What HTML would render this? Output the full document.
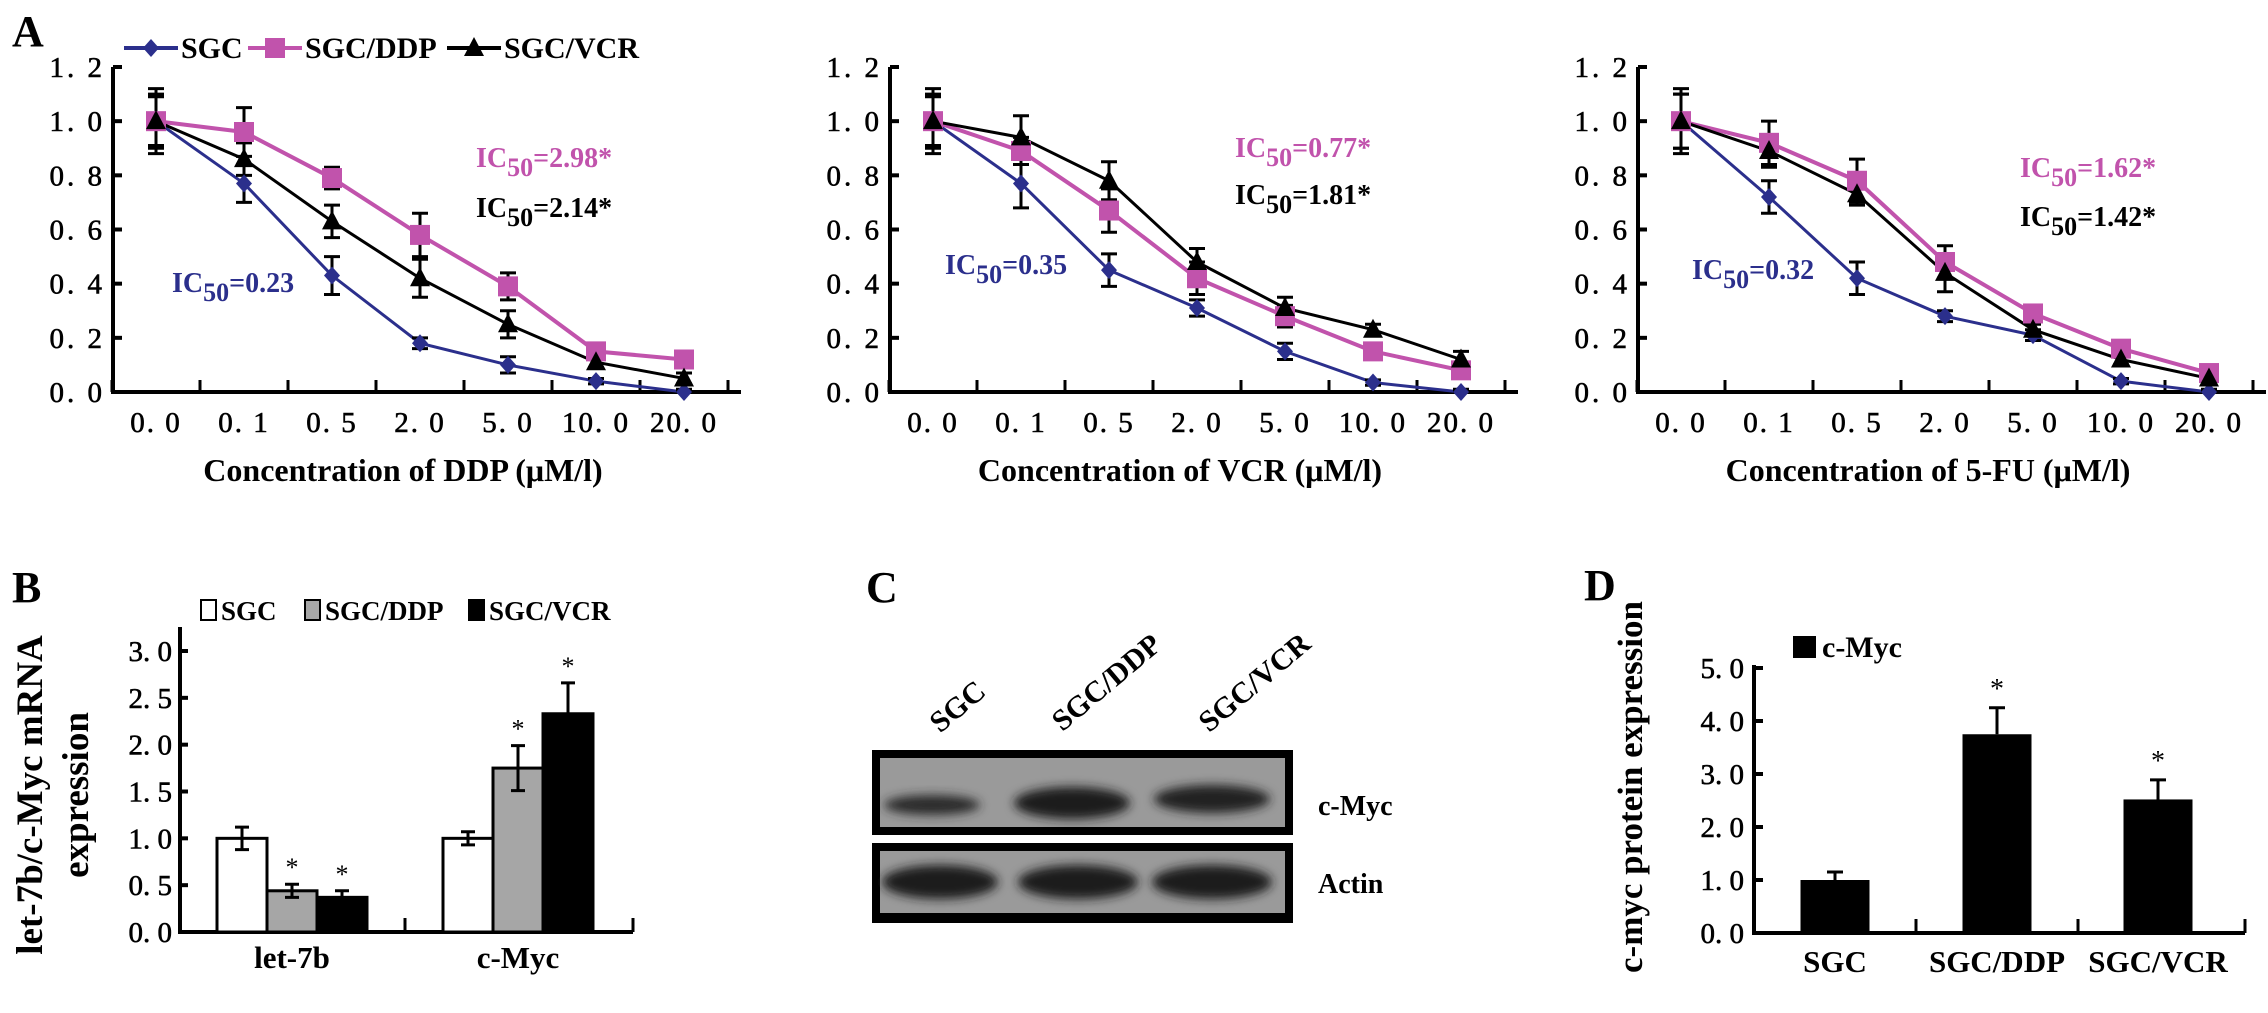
<!DOCTYPE html>
<html><head><meta charset="utf-8">
<style>
html,body{margin:0;padding:0;background:#fff;}
svg{display:block;font-family:"Liberation Serif",serif;}
.t{font-weight:bold;}
</style></head>
<body>
<svg id="fig" width="2268" height="1013" viewBox="0 0 2268 1013" xmlns="http://www.w3.org/2000/svg">
<defs>
<filter id="blur" x="-20%" y="-50%" width="140%" height="200%"><feGaussianBlur stdDeviation="5"/></filter>
</defs>
<text x="12" y="46" font-size="44" class="t">A</text>
<g id="legA"></g>
<g id="chartA1"></g>
<g id="chartA2"></g>
<g id="chartA3"></g>

<text x="12" y="602" font-size="44" class="t">B</text>
<g id="chartB"></g>

<text x="866" y="602" font-size="44" class="t">C</text>
<g id="blot">
  <rect x="872" y="750" width="421" height="85" fill="#000"/>
  <rect x="880" y="758" width="405" height="69" fill="#9a9a9a"/>
  <ellipse cx="932" cy="805" rx="48" ry="10" fill="#2a2a2a" filter="url(#blur)"/>
  <ellipse cx="1072" cy="803" rx="58" ry="16" fill="#1e1e1e" filter="url(#blur)"/>
  <ellipse cx="1212" cy="799" rx="58" ry="14" fill="#222" filter="url(#blur)"/>
  <rect x="872" y="843" width="421" height="80" fill="#000"/>
  <rect x="880" y="851" width="405" height="62" fill="#9a9a9a"/>
  <ellipse cx="940" cy="882" rx="58" ry="17" fill="#1e1e1e" filter="url(#blur)"/>
  <ellipse cx="1078" cy="882" rx="60" ry="17" fill="#1e1e1e" filter="url(#blur)"/>
  <ellipse cx="1212" cy="882" rx="60" ry="17" fill="#1e1e1e" filter="url(#blur)"/>
  <text x="958" y="716" font-size="30" class="t" text-anchor="middle" transform="rotate(-40 958 707)">SGC</text>
  <text x="1107" y="692" font-size="30" class="t" text-anchor="middle" transform="rotate(-40 1107 683)">SGC/DDP</text>
  <text x="1255" y="692" font-size="30" class="t" text-anchor="middle" transform="rotate(-40 1255 683)">SGC/VCR</text>
  <text x="1318" y="815" font-size="28" class="t">c-Myc</text>
  <text x="1318" y="893" font-size="28" class="t">Actin</text>
</g>

<text x="1584" y="600" font-size="44" class="t">D</text>
<g id="chartD"></g>
</svg>
<script>
// ---------- Panel A data ----------
const doseLabels = ["0.0","0.1","0.5","2.0","5.0","10.0","20.0"];
const yTicksA = [0,0.2,0.4,0.6,0.8,1.0,1.2];
const ddpSGC = [1.0,0.77,0.43,0.18,0.10,0.04,0.0];
const ddpDDP = [1.0,0.96,0.79,0.58,0.39,0.15,0.12];
const ddpVCR = [1.0,0.86,0.63,0.42,0.25,0.11,0.05];
const ddpErrSGC = [0.10,0.07,0.07,0.02,0.03,0.01,0.01];
const ddpErrDDP = [0.09,0.09,0.04,0.08,0.05,0.02,0.02];
const ddpErrVCR = [0.12,0.06,0.06,0.07,0.05,0.02,0.02];
const vcrSGC = [1.0,0.77,0.45,0.31,0.15,0.035,0.0];
const vcrDDP = [1.0,0.89,0.67,0.42,0.28,0.15,0.08];
const vcrVCR = [1.0,0.94,0.78,0.48,0.31,0.23,0.12];
const vcrErrSGC = [0.10,0.09,0.06,0.03,0.03,0.01,0.01];
const vcrErrDDP = [0.09,0.05,0.08,0.06,0.04,0.02,0.02];
const vcrErrVCR = [0.12,0.08,0.07,0.05,0.04,0.02,0.03];
const fuSGC = [1.0,0.72,0.42,0.28,0.21,0.04,0.0];
const fuDDP = [1.0,0.92,0.78,0.48,0.29,0.16,0.07];
const fuVCR = [1.0,0.89,0.73,0.44,0.23,0.12,0.05];
const fuErrSGC = [0.10,0.06,0.06,0.02,0.02,0.01,0.01];
const fuErrDDP = [0.10,0.08,0.08,0.06,0.03,0.03,0.01];
const fuErrVCR = [0.12,0.06,0.04,0.07,0.02,0.02,0.01];
const icLabels1 = ["2.98*","2.14*","0.23"];
const icLabels2 = ["0.77*","1.81*","0.35"];
const icLabels3 = ["1.62*","1.42*","0.32"];
// ---------- Panel B data ----------
const genes = ["let-7b","c-Myc"];
const mrnaSGC = [1.0,1.0];
const mrnaDDP = [0.44,1.75];
const mrnaVCR = [0.37,2.33];
const mrnaErrSGC = [0.12,0.07];
const mrnaErrDDP = [0.07,0.24];
const mrnaErrVCR = [0.07,0.33];
const yTicksB = [0,0.5,1.0,1.5,2.0,2.5,3.0];
// ---------- Panel D data ----------
const cellLines = ["SGC","SGC/DDP","SGC/VCR"];
const protein = [1.0,3.75,2.52];
const proteinErr = [0.15,0.5,0.37];
const yTicksD = [0,1,2,3,4,5];

const NS="http://www.w3.org/2000/svg";
function mk(parent,tag,attrs,text){const e=document.createElementNS(NS,tag);for(const k in attrs)e.setAttribute(k,attrs[k]);if(text!==undefined)e.textContent=text;parent.appendChild(e);return e;}

const BLUE="#2b2f8c", PINK="#c153ac", BLACK="#000";

function marker(g,type,x,y,color){
  let m;
  if(type==="diamond") m=mk(g,"polygon",{points:`${x},${y-9} ${x+8},${y} ${x},${y+9} ${x-8},${y}`,fill:color});
  else if(type==="square") m=mk(g,"rect",{x:x-10,y:y-10,width:20,height:20,fill:color});
  else m=mk(g,"polygon",{points:`${x},${y-11} ${x+10},${y+8} ${x-10},${y+8}`,fill:color});
  
  
}

(function(){
  const g=document.getElementById("legA");
  const items=[["SGC",BLUE,"diamond",124],["SGC/DDP",PINK,"square",248],["SGC/VCR",BLACK,"triangle",447]];
  items.forEach(it=>{
    const l=mk(g,"line",{x1:it[3],y1:48,x2:it[3]+54,y2:48,stroke:it[1],"stroke-width":4});
    
    
    marker(g,it[2],it[3]+27,48,it[1]);
    const t=mk(g,"text",{x:it[3]+57,y:58,"font-size":30,"font-weight":"bold"},it[0]);
    
    
  });
})();

function lineChart(id,ax,title,series,errs,ic,icPos){
  const g=document.getElementById(id);
  const y0=392, y1=67, step=88, first=ax+43, xEnd=ax+628;
  const Y=v=>y0-(v/1.2)*(y0-y1);
  const X=i=>first+i*step;
  const a1=mk(g,"line",{x1:ax,y1:y1,x2:ax,y2:y0+2,stroke:"#000","stroke-width":4});
  
  
  const a2=mk(g,"line",{x1:ax-2,y1:y0,x2:xEnd,y2:y0,stroke:"#000","stroke-width":4});
  
  
  yTicksA.forEach(v=>{
    const tk=mk(g,"line",{x1:ax,y1:Y(v),x2:ax+9,y2:Y(v),stroke:"#000","stroke-width":4});
    
    
    const tl=mk(g,"text",{x:ax-8,y:Y(v)+10,"font-size":29,"text-anchor":"end","letter-spacing":"3","stroke":"#000","stroke-width":0.6},v.toFixed(1).split(".").join(". "));
    
    
  });
  for(let i=0;i<=doseLabels.length;i++){
    const xx=first-step/2+i*step;
    const tk=mk(g,"line",{x1:Math.min(xx,xEnd),y1:y0,x2:Math.min(xx,xEnd),y2:y0-12,stroke:"#000","stroke-width":3});
    
    
  }
  doseLabels.forEach((d,i)=>{
    const tl=mk(g,"text",{x:X(i),y:432,"font-size":29,"text-anchor":"middle","letter-spacing":"2","stroke":"#000","stroke-width":0.6},d.split(".").join(". "));
    
    
  });
  const tt=mk(g,"text",{x:ax+290,y:481,"font-size":32,"font-weight":"bold","text-anchor":"middle"},title);
  
  
  const styles=[[BLUE,"diamond",3],[PINK,"square",4],[BLACK,"triangle",3]];
  series.forEach((s,k)=>{
    const pts=s.map((v,i)=>X(i)+","+Y(v)).join(" ");
    const pl=mk(g,"polyline",{points:pts,fill:"none",stroke:styles[k][0],"stroke-width":styles[k][2]});
    
    
    s.forEach((v,i)=>{
      const e=errs[k][i];
      const eb=mk(g,"path",{d:`M${X(i)},${Y(v+e)}V${Y(Math.max(0,v-e))}M${X(i)-8},${Y(v+e)}h16M${X(i)-8},${Y(Math.max(0,v-e))}h16`,stroke:"#000","stroke-width":3,fill:"none"});
      
      
    });
  });
  series.forEach((s,k)=>s.forEach((v,i)=>marker(g,styles[k][1],X(i),Y(v),styles[k][0])));
  const icCols=[PINK,BLACK,BLUE];
  ic.forEach((lab,k)=>{
    const t=mk(g,"text",{x:icPos[k][0],y:icPos[k][1],"font-size":28,"font-weight":"bold",fill:icCols[k]});
    
    
    mk(t,"tspan",{},"IC");
    mk(t,"tspan",{dy:9,"font-size":26},"50");
    mk(t,"tspan",{dy:-9},"="+lab);
  });
}
lineChart("chartA1",113,"Concentration of DDP (μM/l)",[ddpSGC,ddpDDP,ddpVCR],[ddpErrSGC,ddpErrDDP,ddpErrVCR],icLabels1,[[476,167],[476,217],[172,292]]);
lineChart("chartA2",890,"Concentration of VCR (μM/l)",[vcrSGC,vcrDDP,vcrVCR],[vcrErrSGC,vcrErrDDP,vcrErrVCR],icLabels2,[[1235,157],[1235,204],[945,274]]);
lineChart("chartA3",1638,"Concentration of 5-FU (μM/l)",[fuSGC,fuDDP,fuVCR],[fuErrSGC,fuErrDDP,fuErrVCR],icLabels3,[[2020,177],[2020,226],[1692,279]]);

(function(){
  const g=document.getElementById("chartB");
  const ax=180, y0=932, yTop=627, xEnd=633;
  const Y=v=>y0-v*(932-651)/3.0;
  const bw=50, groupStart=[217,443];
  const ya=mk(g,"line",{x1:ax,y1:yTop,x2:ax,y2:y0+2,stroke:"#000","stroke-width":4});
  
  
  const xa=mk(g,"line",{x1:ax-2,y1:y0,x2:xEnd,y2:y0,stroke:"#000","stroke-width":4});
  
  
  [405,xEnd].forEach(x=>{const t=mk(g,"line",{x1:x,y1:y0,x2:x,y2:y0-14,stroke:"#000","stroke-width":3});
    
    });
  yTicksB.forEach(v=>{
    const t=mk(g,"line",{x1:ax,y1:Y(v),x2:ax+8,y2:Y(v),stroke:"#000","stroke-width":4});
    
    
    const l=mk(g,"text",{x:ax-8,y:Y(v)+10,"font-size":29,"text-anchor":"end","stroke":"#000","stroke-width":0.6},v.toFixed(1).split(".").join(". "));
    
    
  });
  const sers=[[mrnaSGC,mrnaErrSGC,"#fff"],[mrnaDDP,mrnaErrDDP,"#a6a6a6"],[mrnaVCR,mrnaErrVCR,"#000"]];
  genes.forEach((gn,gi)=>{
    sers.forEach((s,k)=>{
      const x=groupStart[gi]+k*bw, v=s[0][gi], e=s[1][gi];
      const r=mk(g,"rect",{x:x,y:Y(v),width:bw,height:y0-Y(v),fill:s[2],stroke:"#000","stroke-width":3});
      
      
      const cx=x+bw/2;
      const eb=mk(g,"path",{d:`M${cx},${Y(v+e)}V${Y(v-e)}M${cx-7},${Y(v+e)}h14M${cx-7},${Y(v-e)}h14`,stroke:"#000","stroke-width":3,fill:"none"});
      
      
      if(k>0){const st=mk(g,"text",{x:cx,y:Y(v+e)-8,"font-size":26,"text-anchor":"middle"},"*");
        
        }
    });
    const xl=mk(g,"text",{x:groupStart[gi]+bw*1.5,y:968,"font-size":31,"font-weight":"bold","text-anchor":"middle"},gn);
    
    
  });
  const leg=[["SGC","#fff",201],["SGC/DDP","#a6a6a6",305],["SGC/VCR","#000",469]];
  leg.forEach(l=>{
    const r=mk(g,"rect",{x:l[2],y:600,width:15,height:20,fill:l[1],stroke:"#000","stroke-width":2});
    
    
    const t=mk(g,"text",{x:l[2]+20,y:620,"font-size":27,"font-weight":"bold"},l[0]);
    
    
  });
  const yt=mk(g,"text",{x:0,y:0,"font-size":37,"font-weight":"bold","text-anchor":"middle",transform:"translate(42 795) rotate(-90)"},"let-7b/c-Myc mRNA");
  
  
  const yt2=mk(g,"text",{x:0,y:0,"font-size":37,"font-weight":"bold","text-anchor":"middle",transform:"translate(88 795) rotate(-90)"},"expression");
  
  
})();

(function(){
  const g=document.getElementById("chartD");
  const ax=1754, y0=933, yTop=665, xEnd=2245;
  const Y=v=>y0-v*(933-668)/5;
  const centers=[1835,1997,2158], bw=69;
  const ya=mk(g,"line",{x1:ax,y1:yTop,x2:ax,y2:y0+2,stroke:"#000","stroke-width":4});
  
  
  const xa=mk(g,"line",{x1:ax-2,y1:y0,x2:xEnd,y2:y0,stroke:"#000","stroke-width":4});
  
  
  [1916,2078,xEnd].forEach(x=>{const t=mk(g,"line",{x1:x,y1:y0,x2:x,y2:y0-14,stroke:"#000","stroke-width":3});
    
    });
  yTicksD.forEach(v=>{
    const t=mk(g,"line",{x1:ax,y1:Y(v),x2:ax+9,y2:Y(v),stroke:"#000","stroke-width":4});
    
    
    const l=mk(g,"text",{x:ax-10,y:Y(v)+10,"font-size":29,"text-anchor":"end","stroke":"#000","stroke-width":0.6},v.toFixed(1).split(".").join(". "));
    
    
  });
  cellLines.forEach((c,i)=>{
    const v=protein[i], e=proteinErr[i], cx=centers[i];
    const r=mk(g,"rect",{x:cx-bw/2,y:Y(v),width:bw,height:y0-Y(v),fill:"#000"});
    
    
    const eb=mk(g,"path",{d:`M${cx},${Y(v)}V${Y(v+e)}M${cx-8},${Y(v+e)}h16`,stroke:"#000","stroke-width":3,fill:"none"});
    
    
    if(i>0){const st=mk(g,"text",{x:cx,y:Y(v+e)-10,"font-size":28,"text-anchor":"middle"},"*");
      
      }
    const xl=mk(g,"text",{x:cx,y:972,"font-size":31,"font-weight":"bold","text-anchor":"middle"},c);
    
    
  });
  const sw=mk(g,"rect",{x:1793,y:636,width:23,height:22,fill:"#000"});
  
  
  const lt=mk(g,"text",{x:1822,y:657,"font-size":30,"font-weight":"bold"},"c-Myc");
  
  
  const yt=mk(g,"text",{x:0,y:0,"font-size":35,"font-weight":"bold","text-anchor":"middle",transform:"translate(1642 787) rotate(-90)"},"c-myc protein expression");
  
  
})();
</script>
</body></html>
